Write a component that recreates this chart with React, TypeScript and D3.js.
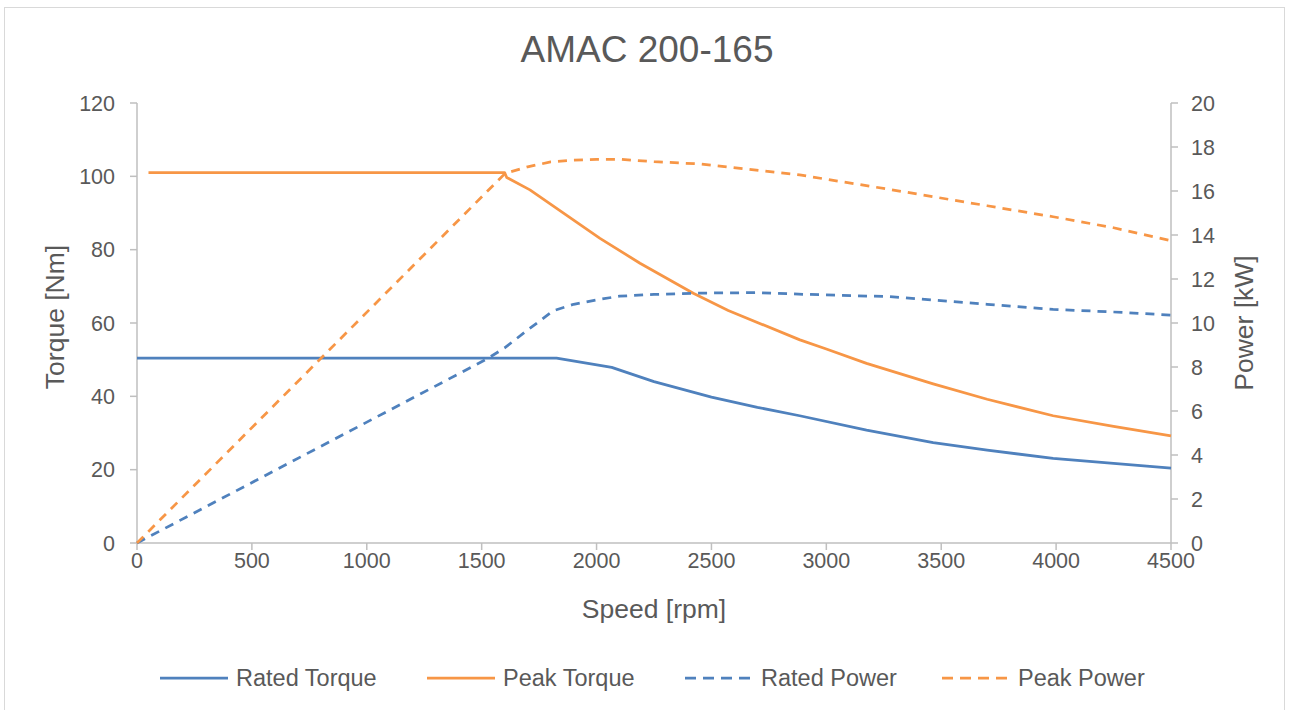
import React from 'react';
import * as d3 from 'd3';

// Speed axis and tick labels
const speedTicks = [0, 500, 1000, 1500, 2000, 2500, 3000, 3500, 4000, 4500];
const torqueTicks = [0, 20, 40, 60, 80, 100, 120];
const powerTicks = [0, 2, 4, 6, 8, 10, 12, 14, 16, 18, 20];

// Rated torque [Nm] vs speed [rpm]
const ratedTorqueRpm = [0, 1826, 2066, 2250, 2500, 2700, 2884, 3175, 3465, 3700, 3987, 4250, 4500];
const ratedTorque = [50.4, 50.4, 47.9, 44.0, 39.8, 37.0, 34.7, 30.8, 27.4, 25.3, 23.1, 21.7, 20.4];

// Peak torque [Nm]
const peakTorqueRpm = [50, 1600, 1609, 1710, 2015, 2189, 2421, 2573, 2885, 3000, 3175, 3465, 3700, 3987, 4250, 4500];
const peakTorque = [101, 101, 99.7, 96.3, 83.1, 76.3, 68.1, 63.4, 55.4, 52.9, 49.0, 43.4, 39.2, 34.7, 31.8, 29.2];

// Rated power [kW]
const ratedPowerRpm = [0, 1522, 1600, 1700, 1811, 1900, 2000, 2100, 2250, 2450, 2700, 2915, 3271, 3465, 3700, 3987, 4250, 4500];
const ratedPower = [0, 8.36, 8.87, 9.68, 10.55, 10.85, 11.05, 11.22, 11.3, 11.36, 11.38, 11.3, 11.2, 11.04, 10.85, 10.62, 10.5, 10.36];

// Peak power [kW]
const peakPowerRpm = [0, 1602, 1700, 1800, 1900, 2000, 2100, 2250, 2450, 2566, 2884, 3271, 3465, 3700, 3987, 4250, 4500];
const peakPower = [0, 16.8, 17.1, 17.32, 17.4, 17.44, 17.44, 17.33, 17.23, 17.1, 16.73, 16.08, 15.74, 15.33, 14.83, 14.33, 13.74];

const BLUE = '#4F81BD';
const ORANGE = '#F79646';
const TEXT = '#595959';
const AXIS = '#BFBFBF';
const FONT = '"Liberation Sans", Arial, sans-serif';

const W = 1291;
const H = 710;
const plot = { left: 137, right: 1171, top: 103, bottom: 543 };

const App: React.FC = () => {
  const x = d3.scaleLinear().domain([0, 4500]).range([plot.left, plot.right]);
  const yT = d3.scaleLinear().domain([0, 120]).range([plot.bottom, plot.top]);
  const yP = d3.scaleLinear().domain([0, 20]).range([plot.bottom, plot.top]);

  const pts = (xs: number[], ys: number[]) => xs.map((v, i) => [v, ys[i]] as [number, number]);
  const lineT = d3.line<[number, number]>().x(d => x(d[0])).y(d => yT(d[1]));
  const lineP = d3.line<[number, number]>().x(d => x(d[0])).y(d => yP(d[1]));

  const series = [
    { name: 'Rated Torque', color: BLUE, dash: undefined, d: lineT(pts(ratedTorqueRpm, ratedTorque)) },
    { name: 'Peak Torque', color: ORANGE, dash: undefined, d: lineT(pts(peakTorqueRpm, peakTorque)) },
    { name: 'Rated Power', color: BLUE, dash: '9,7', d: lineP(pts(ratedPowerRpm, ratedPower)) },
    { name: 'Peak Power', color: ORANGE, dash: '9,7', d: lineP(pts(peakPowerRpm, peakPower)) },
  ];

  const legendX = [160, 427, 685, 942];

  return (
    <svg width={W} height={H} style={{ position: 'absolute', left: 0, top: 0, fontFamily: FONT }}>
      <rect x={0} y={0} width={W} height={H} fill="#fff" />
      <rect x={4.5} y={7.5} width={1280} height={720} fill="#fff" stroke="#D9D9D9" strokeWidth={1} />

      <text x={647} y={62} textAnchor="middle" fontSize={37} fill={TEXT}>AMAC 200-165</text>

      {/* left axis */}
      <line x1={plot.left} x2={plot.left} y1={plot.top} y2={plot.bottom} stroke={AXIS} strokeWidth={1.5} />
      {torqueTicks.map(t => (
        <g key={'t' + t}>
          <line x1={plot.left - 7} x2={plot.left} y1={yT(t)} y2={yT(t)} stroke={AXIS} strokeWidth={1.5} />
          <text x={115} y={yT(t)} dy="0.36em" textAnchor="end" fontSize={21.5} fill={TEXT}>{t}</text>
        </g>
      ))}

      {/* right axis */}
      <line x1={plot.right} x2={plot.right} y1={plot.top} y2={plot.bottom} stroke={AXIS} strokeWidth={1.5} />
      {powerTicks.map(t => (
        <g key={'p' + t}>
          <line x1={plot.right} x2={plot.right + 7} y1={yP(t)} y2={yP(t)} stroke={AXIS} strokeWidth={1.5} />
          <text x={1191} y={yP(t)} dy="0.36em" textAnchor="start" fontSize={21.5} fill={TEXT}>{t}</text>
        </g>
      ))}

      {/* bottom axis */}
      <line x1={plot.left} x2={plot.right} y1={plot.bottom} y2={plot.bottom} stroke={AXIS} strokeWidth={1.5} />
      {speedTicks.map(t => (
        <g key={'s' + t}>
          <line x1={x(t)} x2={x(t)} y1={plot.bottom} y2={plot.bottom + 7} stroke={AXIS} strokeWidth={1.5} />
          <text x={x(t)} y={568} textAnchor="middle" fontSize={21.5} fill={TEXT}>{t}</text>
        </g>
      ))}

      <text x={654} y={618} textAnchor="middle" fontSize={26.5} fill={TEXT}>Speed [rpm]</text>
      <text transform="translate(64,317) rotate(-90)" textAnchor="middle" fontSize={26.5} fill={TEXT}>Torque [Nm]</text>
      <text transform="translate(1253,323) rotate(-90)" textAnchor="middle" fontSize={26.5} fill={TEXT}>Power [kW]</text>

      {series.map(s => (
        <path key={s.name} d={s.d || ''} fill="none" stroke={s.color} strokeWidth={2.75}
          strokeDasharray={s.dash} strokeLinejoin="round" />
      ))}

      {/* legend */}
      {series.map((s, i) => (
        <g key={'l' + s.name}>
          <line x1={legendX[i]} x2={legendX[i] + 68} y1={678} y2={678} stroke={s.color}
            strokeWidth={2.75} strokeDasharray={s.dash ? '11,7' : undefined} />
          <text x={legendX[i] + 76} y={678} dy="0.36em" fontSize={23.5} fill={TEXT}>{s.name}</text>
        </g>
      ))}
    </svg>
  );
};

export default App;
